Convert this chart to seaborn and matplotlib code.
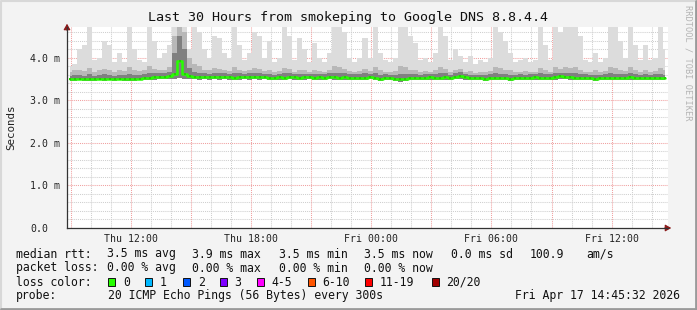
import numpy as np
import pandas as pd
import matplotlib
matplotlib.use("Agg")
import matplotlib.pyplot as plt
import seaborn as sns
from matplotlib.lines import Line2D

# ---------------- data ----------------
TITLE = "Last 30 Hours from smokeping to Google DNS 8.8.4.4"
START_H = 8.815          # hours after Thu 00:00
STEP_H = 0.25            # one sample every 15 minutes (aggregated)

median_ms = [
    3.50, 3.50, 3.51, 3.49, 3.50, 3.50, 3.51, 3.50, 3.51, 3.50,
    3.51, 3.50, 3.49, 3.50, 3.51, 3.52, 3.53, 3.54, 3.55, 3.55,
    3.56, 3.62, 3.92, 3.62, 3.56, 3.55, 3.54, 3.55, 3.54, 3.55,
    3.54, 3.55, 3.54, 3.53, 3.54, 3.55, 3.54, 3.55, 3.54, 3.55,
    3.53, 3.52, 3.54, 3.53, 3.55, 3.54, 3.53, 3.54, 3.55, 3.53,
    3.54, 3.53, 3.55, 3.54, 3.53, 3.54, 3.52, 3.53, 3.52, 3.53,
    3.55, 3.52, 3.51, 3.53, 3.52, 3.50, 3.49, 3.51, 3.52, 3.53,
    3.52, 3.53, 3.54, 3.52, 3.53, 3.54, 3.52, 3.55, 3.58, 3.54,
    3.52, 3.53, 3.52, 3.51, 3.53, 3.52, 3.52, 3.53, 3.51, 3.52,
    3.53, 3.52, 3.53, 3.54, 3.53, 3.52, 3.53, 3.54, 3.56, 3.55,
    3.54, 3.53, 3.52, 3.53, 3.52, 3.51, 3.52, 3.53, 3.52, 3.53,
    3.52, 3.53, 3.54, 3.53, 3.52, 3.53, 3.52, 3.53, 3.52, 3.52,
]

max_ms = [
    3.80, 3.85, 4.20, 4.30, 4.72, 3.95, 4.00, 4.40, 4.30, 3.90,
    4.10, 3.90, 4.72, 4.20, 3.95, 3.90, 4.72, 4.40, 4.00, 4.10,
    4.30, 4.72, 4.72, 4.72, 4.20, 4.72, 4.60, 4.20, 4.00, 4.50,
    4.45, 4.10, 4.00, 4.72, 4.30, 3.95, 4.10, 4.60, 4.50, 4.00,
    4.40, 3.90, 4.00, 4.72, 4.50, 3.95, 4.45, 4.20, 3.90, 4.35,
    4.00, 3.90, 4.10, 4.72, 4.72, 4.60, 4.00, 3.90, 4.00, 4.45,
    4.00, 4.72, 4.10, 3.95, 3.90, 4.00, 4.72, 4.72, 4.50, 4.35,
    3.95, 4.00, 3.90, 4.10, 4.72, 4.50, 3.95, 4.20, 4.05, 3.90,
    4.05, 3.85, 3.95, 3.90, 4.00, 4.72, 4.60, 4.40, 4.10, 3.90,
    3.95, 4.00, 3.90, 3.95, 4.72, 4.30, 3.95, 4.72, 4.60, 4.72,
    4.72, 4.72, 4.50, 3.95, 3.90, 4.10, 3.90, 4.00, 4.72, 4.72,
    4.40, 4.00, 4.72, 4.30, 3.95, 4.30, 3.95, 4.00, 4.72, 4.20,
]

p90_ms = [
    3.66, 3.70, 3.72, 3.68, 3.75, 3.66, 3.70, 3.74, 3.72, 3.66,
    3.70, 3.68, 3.78, 3.70, 3.68, 3.70, 3.80, 3.74, 3.70, 3.72,
    3.78, 4.50, 4.72, 4.60, 4.00, 3.85, 3.80, 3.72, 3.70, 3.76,
    3.74, 3.70, 3.68, 3.78, 3.72, 3.68, 3.70, 3.76, 3.74, 3.68,
    3.72, 3.66, 3.68, 3.76, 3.74, 3.66, 3.72, 3.70, 3.66, 3.72,
    3.68, 3.66, 3.70, 3.80, 3.78, 3.74, 3.68, 3.66, 3.68, 3.74,
    3.68, 3.78, 3.70, 3.66, 3.66, 3.68, 3.80, 3.78, 3.72, 3.70,
    3.66, 3.68, 3.66, 3.70, 3.78, 3.74, 3.66, 3.72, 3.74, 3.66,
    3.68, 3.64, 3.66, 3.66, 3.68, 3.78, 3.76, 3.72, 3.70, 3.66,
    3.66, 3.68, 3.66, 3.66, 3.76, 3.72, 3.66, 3.78, 3.74, 3.78,
    3.76, 3.78, 3.72, 3.66, 3.66, 3.70, 3.66, 3.68, 3.78, 3.76,
    3.72, 3.68, 3.78, 3.72, 3.66, 3.72, 3.66, 3.68, 3.76, 3.70,
]

p75_ms = [
    3.58, 3.59, 3.60, 3.58, 3.61, 3.58, 3.59, 3.61, 3.60, 3.58,
    3.60, 3.59, 3.62, 3.60, 3.60, 3.61, 3.63, 3.63, 3.63, 3.64,
    3.66, 4.10, 4.50, 4.20, 3.75, 3.66, 3.64, 3.63, 3.62, 3.64,
    3.63, 3.63, 3.62, 3.64, 3.63, 3.62, 3.63, 3.64, 3.63, 3.62,
    3.62, 3.60, 3.62, 3.63, 3.64, 3.62, 3.62, 3.62, 3.62, 3.61,
    3.62, 3.61, 3.63, 3.65, 3.64, 3.63, 3.61, 3.61, 3.61, 3.63,
    3.62, 3.63, 3.60, 3.61, 3.60, 3.59, 3.61, 3.62, 3.61, 3.62,
    3.60, 3.61, 3.62, 3.61, 3.63, 3.63, 3.60, 3.63, 3.66, 3.61,
    3.60, 3.60, 3.60, 3.59, 3.61, 3.63, 3.62, 3.62, 3.60, 3.60,
    3.61, 3.60, 3.61, 3.62, 3.63, 3.61, 3.61, 3.63, 3.64, 3.64,
    3.63, 3.63, 3.61, 3.61, 3.60, 3.60, 3.60, 3.61, 3.63, 3.62,
    3.61, 3.61, 3.63, 3.62, 3.60, 3.62, 3.60, 3.61, 3.62, 3.60,
]

min_ms = [
    3.46, 3.46, 3.47, 3.45, 3.46, 3.46, 3.47, 3.46, 3.47, 3.46,
    3.47, 3.46, 3.45, 3.46, 3.47, 3.47, 3.48, 3.48, 3.49, 3.49,
    3.49, 3.50, 3.52, 3.50, 3.49, 3.49, 3.48, 3.49, 3.48, 3.49,
    3.48, 3.49, 3.48, 3.47, 3.48, 3.49, 3.48, 3.49, 3.48, 3.49,
    3.47, 3.47, 3.48, 3.47, 3.49, 3.48, 3.47, 3.48, 3.49, 3.47,
    3.48, 3.47, 3.49, 3.48, 3.47, 3.48, 3.47, 3.47, 3.47, 3.47,
    3.49, 3.47, 3.46, 3.47, 3.47, 3.45, 3.44, 3.46, 3.47, 3.47,
    3.47, 3.47, 3.48, 3.47, 3.47, 3.48, 3.47, 3.49, 3.51, 3.48,
    3.47, 3.47, 3.47, 3.46, 3.47, 3.47, 3.47, 3.47, 3.46, 3.47,
    3.47, 3.47, 3.47, 3.48, 3.47, 3.47, 3.47, 3.48, 3.49, 3.49,
    3.48, 3.47, 3.47, 3.47, 3.47, 3.46, 3.47, 3.47, 3.47, 3.47,
    3.47, 3.47, 3.48, 3.47, 3.47, 3.47, 3.47, 3.47, 3.47, 3.47,
]

y_ticks = [0, 1, 2, 3, 4]
y_tick_labels = ["0.0", "1.0 m", "2.0 m", "3.0 m", "4.0 m"]
x_tick_hours = [12, 18, 24, 30, 36]
x_tick_labels = ["Thu 12:00", "Thu 18:00", "Fri 00:00", "Fri 06:00", "Fri 12:00"]

legend_rtt = [("median rtt:", 16), ("3.5 ms avg", 107), ("3.9 ms max", 192),
              ("3.5 ms min", 279), ("3.5 ms now", 364), ("0.0 ms sd", 451),
              ("100.9", 530), ("am/s", 586)]
legend_loss = [("packet loss:", 16), ("0.00 % avg", 107), ("0.00 % max", 192),
               ("0.00 % min", 279), ("0.00 % now", 364)]
loss_labels = ["0", "1", "2", "3", "4-5", "6-10", "11-19", "20/20"]
loss_colors = ["#26ff00", "#00b8ff", "#0059ff", "#7e00ff", "#ff00ff",
               "#ff5500", "#ff0000", "#a10000"]
loss_box_x = [108, 145, 183, 219.5, 256.5, 307.5, 365, 431.5]
probe_text = "20 ICMP Echo Pings (56 Bytes) every 300s"
stamp_text = "Fri Apr 17 14:45:32 2026"

# ---------------- figure ----------------
W, H = 697, 310
DPI = 100
MONO = "DejaVu Sans Mono"
sns.set_style("white")
plt.rcParams["font.family"] = [MONO, "DejaVu Sans"]

fig = plt.figure(figsize=(W / DPI, H / DPI), dpi=DPI, facecolor="#f3f3f3")

X0, X1, YT, YB = 67, 668, 27, 228
ax = fig.add_axes([X0 / W, 1 - YB / H, (X1 - X0) / W, (YB - YT) / H])
ax.set_facecolor("white")

n = len(median_ms)
t = START_H + STEP_H * (np.arange(n) + 0.5)
df = pd.DataFrame({"t": t, "median": median_ms, "max": max_ms,
                   "p90": p90_ms, "p75": p75_ms, "min": min_ms})

# smoke bands
ax.fill_between(df["t"], df["min"], df["max"], step="mid", color="#dcdcdc", lw=0, zorder=2)
ax.fill_between(df["t"], df["min"], df["p90"], step="mid", color="#b8b8b8", lw=0, zorder=3)
ax.fill_between(df["t"], df["min"], df["p75"], step="mid", color="#808080", lw=0, zorder=4)

# median line
sns.lineplot(data=df, x="t", y="median", ax=ax, color="#26ff00", lw=1.8,
             drawstyle="steps-mid", zorder=6)
sns.scatterplot(data=df, x="t", y="median", ax=ax, color="#1fd400", marker="s",
                s=4, linewidth=0, zorder=7)

XMIN, XMAX = START_H, START_H + 30
ax.set_xlim(XMIN, XMAX)
ax.set_ylim(0, 4.72)

# grid
minor_x = np.arange(9, 39, 1)
major_x = np.arange(9, 39, 3)
for xv in minor_x:
    if xv % 3:
        ax.axvline(xv, color="#cfcfcf", lw=0.75, ls=(0, (1, 1)), zorder=1)
for xv in major_x:
    ax.axvline(xv, color="#f0a0a0", lw=0.75, ls=(0, (1, 1)), zorder=1.5)
for yv in np.arange(0.2, 4.72, 0.2):
    if abs(yv - round(yv)) > 1e-6:
        ax.axhline(yv, color="#cfcfcf", lw=0.75, ls=(0, (1, 1)), zorder=1)
for yv in [1, 2, 3, 4]:
    ax.axhline(yv, color="#f0a0a0", lw=0.75, ls=(0, (1, 1)), zorder=1.5)

for s in ["top", "right"]:
    ax.spines[s].set_visible(False)
for s in ["left", "bottom"]:
    ax.spines[s].set_color("#333333")
    ax.spines[s].set_linewidth(0.9)
    ax.spines[s].set_zorder(8)

ax.set_yticks(y_ticks)
ax.set_yticklabels(y_tick_labels, fontsize=7.1, family=MONO, ha="left")
ax.set_yticks(np.arange(0, 4.72, 0.2), minor=True)
ax.tick_params(axis="y", which="major", direction="out", length=3, width=0.7,
               color="#555555", pad=(X0 - 30) / 1.389 - 3, labelcolor="#222222")
ax.tick_params(axis="y", which="minor", direction="out", length=2, width=0.6, color="#777777")
ax.set_xticks(x_tick_hours)
ax.set_xticklabels(x_tick_labels, fontsize=7.1, family=MONO)
ax.tick_params(axis="x", which="major", direction="out", length=2, width=0.6,
               color="#e08080", pad=2, labelcolor="#222222")
ax.set_xticks(minor_x, minor=True)
ax.tick_params(axis="x", which="minor", direction="out", length=2, width=0.6, color="#bbbbbb")
ax.set_xlabel("")
ax.set_ylabel("")

# axis arrows
ax.annotate("", xy=(0, 1.03), xycoords="axes fraction", xytext=(0, 0.97),
            arrowprops=dict(arrowstyle="-|>,head_length=0.35,head_width=0.2",
                            color="#8b1a1a", lw=0.8), annotation_clip=False)
ax.annotate("", xy=(1.01, 0), xycoords="axes fraction", xytext=(0.99, 0),
            arrowprops=dict(arrowstyle="-|>,head_length=0.35,head_width=0.2",
                            color="#8b1a1a", lw=0.8), annotation_clip=False)

def px(x, y):
    return x / W, 1 - y / H

fig.text(*px(348, 18), TITLE, ha="center", va="center", fontsize=9.6,
         family=MONO, color="#111111")
fig.text(*px(11, 127), "Seconds", ha="center", va="center", rotation=90,
         fontsize=7.8, family=MONO, color="#222222")
fig.text(*px(688, 5), "RRDTOOL / TOBI OETIKER", ha="center", va="top", rotation=-90,
         fontsize=6.2, family=MONO, color="#b4b4b4")

LEG = 8.3
for txt, xx in legend_rtt:
    fig.text(*px(xx, 254), txt, ha="left", va="center", fontsize=LEG, family=MONO, color="#111111")
for txt, xx in legend_loss:
    fig.text(*px(xx, 268), txt, ha="left", va="center", fontsize=LEG, family=MONO, color="#111111")
fig.text(*px(16, 282), "loss color:", ha="left", va="center", fontsize=LEG, family=MONO, color="#111111")
for lab, col, bx in zip(loss_labels, loss_colors, loss_box_x):
    fig.patches.append(plt.Rectangle(px(bx, 286), 7 / W, 8 / H, transform=fig.transFigure,
                                     facecolor=col, edgecolor="#111111", lw=0.7))
    fig.text(*px(bx + 15, 282), lab, ha="left", va="center", fontsize=LEG, family=MONO, color="#111111")
fig.text(*px(16, 296), "probe:", ha="left", va="center", fontsize=LEG, family=MONO, color="#111111")
fig.text(*px(108, 296), probe_text, ha="left", va="center", fontsize=LEG, family=MONO, color="#111111")
fig.text(*px(680, 296), stamp_text, ha="right", va="center", fontsize=LEG, family=MONO, color="#111111")

# frame
fig.add_artist(Line2D([0.5 / W, 0.5 / W, 1 - 0.5 / W], [0.5 / H, 1 - 0.5 / H, 1 - 0.5 / H],
                      transform=fig.transFigure, color="#d8d8d8", lw=1.5))
fig.add_artist(Line2D([0.5 / W, 1 - 1 / W, 1 - 1 / W], [1 / H, 1 / H, 1 - 0.5 / H],
                      transform=fig.transFigure, color="#9a9a9a", lw=2))

fig.savefig("out.png", dpi=DPI, facecolor=fig.get_facecolor())
